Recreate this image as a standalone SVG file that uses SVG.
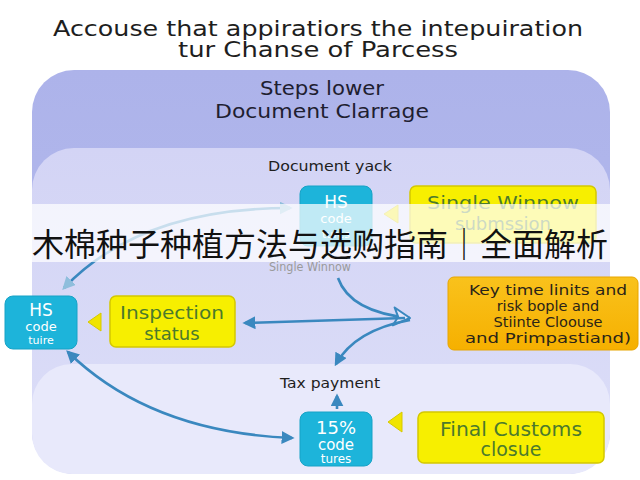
<svg xmlns="http://www.w3.org/2000/svg" width="640" height="480" viewBox="0 0 640 480">
<style>
text{font-family:"DejaVu Sans","Liberation Sans",sans-serif;text-anchor:middle}
.title{font-size:22px;fill:#1e1e1e}
.hdr{font-size:20px;fill:#1e2030}
.lbl{font-size:14px;fill:#1e1e1e}
.cyan{fill:#1db4da;stroke:#17a2c6;stroke-width:1}
.cyt{fill:#ffffff}
.yel{fill:#f7ef00;stroke:#d4c800;stroke-width:1.5}
.yt{font-size:18px;fill:#4b7a2c}
.tri{fill:#f0e400;stroke:#d6c900;stroke-width:1}
.ot{font-size:14.5px;fill:#2a2418}
.conn{fill:none;stroke:#3a88bf;stroke-width:2.6}
</style>
<defs>
<marker id="ah" viewBox="0 0 10 10" refX="8" refY="5" markerWidth="5" markerHeight="5" orient="auto-start-reverse" markerUnits="strokeWidth">
<path d="M0,0 L10,5 L0,10 z" fill="#3a88bf"/>
</marker>
<marker id="ahl" viewBox="0 0 10 10" refX="8" refY="5" markerWidth="5" markerHeight="5" orient="auto-start-reverse" markerUnits="strokeWidth">
<path d="M0,0 L10,5 L0,10 z" fill="#8fbedc"/>
</marker>
<marker id="open" viewBox="0 0 14 14" refX="12" refY="7" markerWidth="8" markerHeight="8" orient="auto" markerUnits="strokeWidth">
<path d="M1,1 L12,7 L1,13 L4,7 z" fill="#e4e6fa" stroke="#3a88bf" stroke-width="1.4" stroke-linejoin="round"/>
</marker>
<linearGradient id="gOuter" x1="0" y1="0" x2="0" y2="1">
<stop offset="0" stop-color="#adb3ea"/>
<stop offset="1" stop-color="#b6bcee"/>
</linearGradient>
<linearGradient id="gMid" x1="0" y1="0" x2="0" y2="1">
<stop offset="0" stop-color="#d3d4f5"/>
<stop offset="1" stop-color="#dcdef8"/>
</linearGradient>
<linearGradient id="gOrg" x1="0" y1="0" x2="0" y2="1">
<stop offset="0" stop-color="#f9c21c"/>
<stop offset="1" stop-color="#f6b000"/>
</linearGradient>
</defs>
<rect width="640" height="480" fill="#ffffff"/>
<g id="title">
<text class="title" x="318" y="36" textLength="530" lengthAdjust="spacingAndGlyphs">Accouse that appiratiors the intepuiration</text>
<text class="title" x="318" y="57" textLength="280" lengthAdjust="spacingAndGlyphs">tur Chanse of Parcess</text>
</g>
<g id="panels">
<rect x="32" y="70" width="578" height="404" rx="42" fill="url(#gOuter)"/>
<rect x="32" y="148" width="578" height="326" rx="42" fill="url(#gMid)"/>
<rect x="32" y="364" width="578" height="110" rx="40" fill="#e8e9fb"/>
<text class="hdr" x="322" y="95" textLength="124" lengthAdjust="spacingAndGlyphs">Steps lower</text>
<text class="hdr" x="322" y="118" textLength="214" lengthAdjust="spacingAndGlyphs">Document Clarrage</text>
<text class="lbl" x="330" y="171" textLength="124" lengthAdjust="spacingAndGlyphs">Document yack</text>
<text class="lbl" x="330" y="388" textLength="100" lengthAdjust="spacingAndGlyphs">Tax payment</text>
</g>
<g id="connectors">
<path class="conn" d="M64,288 Q140,208 290,208" stroke="#8fbedc" marker-start="url(#ahl)" marker-end="url(#ahl)"/>
<path class="conn" d="M338,278 Q350,312 410,318" marker-end="url(#open)"/>
<path class="conn" d="M245,323 L405,318" marker-start="url(#ah)"/>
<path class="conn" d="M410,320 Q355,330 336,364" marker-end="url(#ah)"/>
<path class="conn" d="M337,409 L337,396" marker-end="url(#ah)"/>
<path class="conn" d="M68,352 Q150,432 292,438" marker-start="url(#ah)" marker-end="url(#ah)"/>
</g>
<g id="node-hs-top">
<rect class="cyan" x="300" y="186" width="72" height="60" rx="8"/>
<text class="cyt" x="336" y="208" style="font-size:17px">HS</text>
<text class="cyt" x="336" y="223" style="font-size:13px">code</text>
<text class="cyt" x="336" y="238" style="font-size:11px">tures</text>
</g>
<g id="node-single-winnow">
<polygon class="tri" points="384,214 398,205 398,223"/>
<rect class="yel" x="410" y="186" width="186" height="57" rx="6"/>
<text class="yt" x="503" y="209" textLength="152" lengthAdjust="spacingAndGlyphs">Single Winnow</text>
<text class="yt" x="503" y="230">submssion</text>
</g>
<g id="banner">
<rect x="0" y="204" width="640" height="58" fill="#ffffff" fill-opacity="0.72"/>
<text x="320" y="256" style="font-family:'Noto Sans CJK SC','Noto Sans',sans-serif;font-size:32px;fill:#111111">木棉种子种植方法与选购指南｜全面解析</text>
</g>
<g id="label-single-winnow">
<text x="310" y="271" style="font-size:12px;fill:#9a9a9a" textLength="82" lengthAdjust="spacingAndGlyphs">Single Winnow</text>
</g>
<g id="node-hs-left">
<rect class="cyan" x="5" y="296" width="72" height="53" rx="8"/>
<text class="cyt" x="41" y="316" style="font-size:17px">HS</text>
<text class="cyt" x="41" y="331" style="font-size:13px">code</text>
<text class="cyt" x="41" y="344" style="font-size:11px">tuire</text>
</g>
<g id="node-inspection">
<polygon class="tri" points="88,322 101,313 101,331"/>
<rect class="yel" x="110" y="296" width="125" height="51" rx="6"/>
<text class="yt" x="172" y="319" textLength="104" lengthAdjust="spacingAndGlyphs">Inspection</text>
<text class="yt" x="172" y="340">status</text>
</g>
<g id="node-key-time">
<rect x="448" y="277" width="190" height="73" rx="6" fill="url(#gOrg)" stroke="#e8a500"/>
<text class="ot" x="548" y="295" textLength="158" lengthAdjust="spacingAndGlyphs">Key time linits and</text>
<text class="ot" x="548" y="311">risk bople and</text>
<text class="ot" x="548" y="327">Stiinte Cloouse</text>
<text class="ot" x="548" y="343" textLength="166" lengthAdjust="spacingAndGlyphs">and Primpastiand)</text>
</g>
<g id="node-15">
<rect class="cyan" x="300" y="412" width="72" height="54" rx="8"/>
<text class="cyt" x="336" y="434" style="font-size:18px">15%</text>
<text class="cyt" x="336" y="450" style="font-size:15px">code</text>
<text class="cyt" x="336" y="463" style="font-size:12px">tures</text>
</g>
<g id="node-final">
<polygon class="tri" points="388,422 402,412 402,432"/>
<rect class="yel" x="418" y="412" width="186" height="51" rx="6"/>
<text class="yt" x="511" y="436" style="font-size:19px" textLength="142" lengthAdjust="spacingAndGlyphs">Final Customs</text>
<text class="yt" x="511" y="456" style="font-size:19px">closue</text>
</g>
</svg>
